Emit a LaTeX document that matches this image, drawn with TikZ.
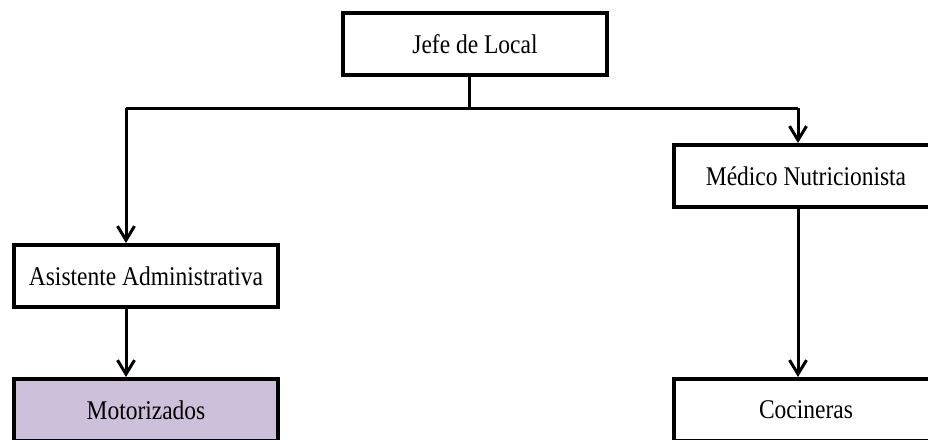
\documentclass[tikz,border=0pt]{standalone}
\usepackage{fontspec}
\setmainfont{Liberation Serif}[FakeStretch=0.87]
\usepackage{xcolor}
\usepackage{tikz}
\usetikzlibrary{
  arrows.meta,
  calc,
  positioning
}
\definecolor{lavanda}{RGB}{204,192,218}

\begin{document}
\begin{tikzpicture}[
  x=1pt, y=-1pt,
  cargo/.style={draw, line width=4pt, minimum width=264pt, minimum height=62pt,
               inner sep=0pt, align=center, fill=white,
               font=\fontsize{27}{32}\selectfont},
  linea/.style={line width=3pt},
  arr/.style={-{Straight Barb[length=14pt, width=17pt]}, line width=3pt}
]
  \useasboundingbox (0,0) rectangle (928,439);
  \clip (0,0) rectangle (928,439);

  \node[cargo] (jefe) at (475,44) {Jefe de Local};
  \node[cargo] (asistente) at (146,276) {Asistente Administrativa};
  \node[cargo] (medico) at (806,176) {Médico Nutricionista};
  \node[cargo, fill=lavanda] (motorizados) at (146,410) {Motorizados};
  \node[cargo] (cocineras) at (806,410) {Cocineras};

  % barra horizontal
  \coordinate (izq) at (126,108);
  \coordinate (der) at (798,108);

  \draw[linea] (jefe.south -| 469,0) -- (izq -| 469,0);
  \draw[linea] (izq) -- (der);
  \draw[arr] (izq) -- (izq |- asistente.north);
  \draw[arr] (der) -- (der |- medico.north);
  \draw[arr] (izq |- asistente.south) -- (izq |- motorizados.north);
  \draw[arr] (der |- medico.south) -- (der |- cocineras.north);
\end{tikzpicture}
\end{document}
